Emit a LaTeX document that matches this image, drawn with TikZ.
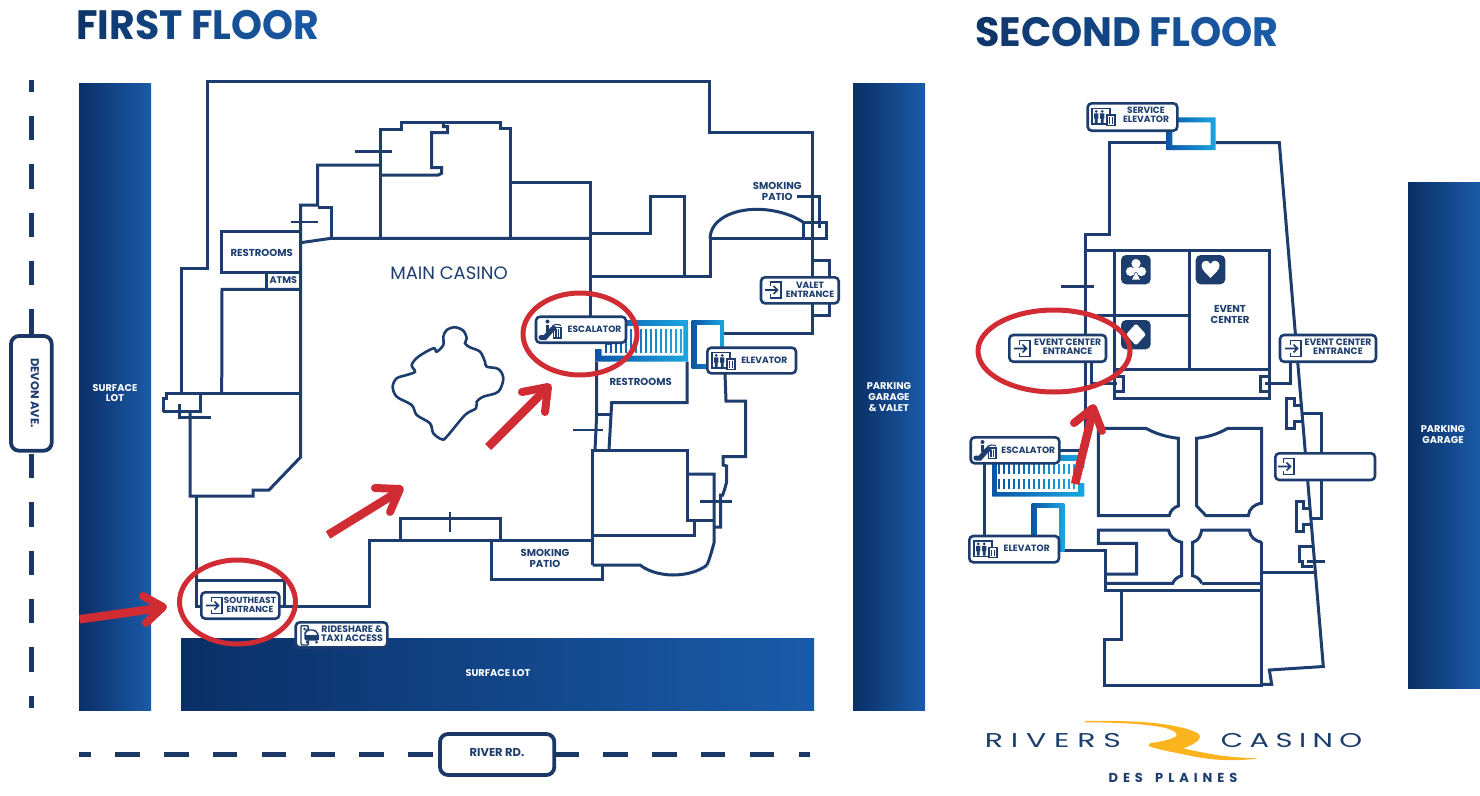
\documentclass[tikz,border=0pt]{standalone}
\usepackage{fontspec}
\usepackage{graphicx}
\setmainfont{Poppins}
\definecolor{navy}{HTML}{1C3D6E}
\definecolor{dashc}{HTML}{1A3766}
\definecolor{barL}{HTML}{0A2F66}
\definecolor{barR}{HTML}{1A5BA8}
\definecolor{gradL}{HTML}{0B55A6}
\definecolor{gradR}{HTML}{1AA6E2}
\definecolor{redm}{HTML}{D12B33}
\definecolor{gold}{HTML}{FBB41E}
\definecolor{hdL}{HTML}{0E3569}
\definecolor{hdR}{HTML}{1A5BA8}
\tikzset{
  wall/.style={draw=navy,line width=3pt,line join=miter},
  tick wall/.style={draw=navy,line width=2.6pt},
  barshade/.style={left color=barL,right color=barR},
  liftshade/.style={left color=gradL,right color=gradR},
  signbox/.style={draw=navy,fill=white,line width=2.6pt,rounded corners=4pt},
  roadbox/.style={draw=dashc,fill=white,line width=3.8pt,rounded corners=8pt},
  roadline/.style={draw=dashc,line width=5.5pt},
  lab/.style={font=\bfseries\fontsize{9.1}{9}\selectfont,text=navy,align=center,inner sep=0pt},
  roomlab/.style={font=\bfseries\fontsize{10.1}{11}\selectfont,text=navy,align=center,inner sep=0pt},
  roadlab/.style={font=\bfseries\fontsize{11.5}{12}\selectfont,text=navy,align=center,inner sep=0pt},
  barlab/.style={font=\bfseries\fontsize{9.8}{10.8}\selectfont,text=white,align=center,inner sep=0pt},
  redring/.style={draw=redm,line width=5pt},
  redshaft/.style={draw=redm,line width=8.5pt},
  redhead/.style={draw=redm,line width=8pt,line cap=round,line join=round},
  icon/.style={draw=navy,line width=1.4pt},
}
\newcommand\hdl[2]{\textcolor{hdL!#2!hdR}{#1}}
\newcommand\sign[4]{\draw[signbox] (#1,#2) rectangle (#3,#4);}
\newcommand\icoentry[2]{\begin{scope}[shift={(#1,#2)}]
  \draw[icon,line width=1.7pt] (-4.5,-4) -- (-4.5,-8) -- (6,-8) -- (6,8) -- (-4.5,8) -- (-4.5,4);
  \draw[icon,line width=1.7pt] (-10,0) -- (2.5,0) (-1.5,-4) -- (2.5,0) -- (-1.5,4);
\end{scope}}
\newcommand\icolift[2]{\begin{scope}[shift={(#1,#2)}]
  \draw[icon,line width=1.2pt] (-11,-8.5) rectangle (7,7);
  \fill[navy] (-6.8,-5.7) circle (1.5) (-0.8,-5.7) circle (1.5);
  \fill[navy] (-9,-3.6) rectangle (-4.6,1.5) (-8.1,1.5) rectangle (-5.5,6) (-3,-3.6) rectangle (1.4,1.5) (-2.1,1.5) rectangle (0.5,6);
  \draw[fill=white,icon,line width=1.2pt] (4,-2) rectangle (12,8.3);
  \draw[icon,line width=1.2pt] (6.3,0) -- (6.3,6.5) (9.8,0) -- (9.8,6.5);
\end{scope}}
\newcommand\icoesc[2]{\begin{scope}[shift={(#1,#2)}]
  \fill[navy] (-3.5,-8) circle (2);
  \draw[navy,line width=2.8pt] (-3.5,-5) -- (-3.5,2);
  \draw[navy,line width=5pt,line cap=round] (-10,8) -- (-6,8) -- (1,0) -- (3,-1);
  \draw[icon,line width=1.1pt] (1,-3) .. controls (3,-5.5) and (8,-5.5) .. (10,-4);
  \draw[icon,line width=1.4pt] (2.5,-2) rectangle (10,8.5);
  \draw[icon,line width=1.1pt] (5,-0.5) -- (5,7) (7.6,-0.5) -- (7.6,7);
\end{scope}}
\newcommand\stripes[4]{\foreach \i in {0,...,#4}{%
  \pgfmathsetmacro\p{100-100*\i/#4}\edef\cc{gradL!\p!gradR}%
  \draw[draw=\cc,line width=1.9pt] ({#1+5*\i},#2) -- ({#1+5*\i},#3);}}
\begin{document}
\begin{tikzpicture}[x=1pt,y=-1pt]
\useasboundingbox[fill=white] (0,0) rectangle (1480,795);
% headings
\node[anchor=west,inner sep=0pt,font=\bfseries\fontsize{41}{41}\selectfont] (hfirst) at (76,25) {\scalebox{0.96}[1]{\hdl{F}{100}\hdl{I}{90}\hdl{R}{80}\hdl{S}{70}\hdl{T}{60}\hspace{0.22em}\hdl{F}{50}\hdl{L}{40}\hdl{O}{30}\hdl{O}{20}\hdl{R}{10}}};
\node[anchor=west,inner sep=0pt,font=\bfseries\fontsize{41}{41}\selectfont] (hsecond) at (975,32) {\scalebox{0.968}[1]{\hdl{S}{100}\hdl{E}{90}\hdl{C}{80}\hdl{O}{70}\hdl{N}{60}\hdl{D}{50}\hspace{0.22em}\hdl{F}{40}\hdl{L}{30}\hdl{O}{20}\hdl{O}{10}\hdl{R}{0}}};
% lots
\shade[barshade] (79,83) rectangle (151,710);
\shade[barshade] (853,83) rectangle (925,710);
\shade[barshade] (181,638) rectangle (814,710);
\shade[barshade] (1408,182) rectangle (1480,688);
\node[barlab] (lot1) at (115,393) {SURFACE\\LOT};
\node[barlab] (lot2) at (498,673) {SURFACE LOT};
\node[barlab] (lot3) at (889,397) {PARKING\\GARAGE\\\& VALET};
\node[barlab] (lot4) at (1443,434.5) {PARKING\\GARAGE};
% roads
\draw[roadline,dash pattern=on 24.4pt off 23.9pt,dash phase=12.4pt] (31.5,80) -- (31.5,708);
\draw[roadline,dash pattern=on 24.4pt off 24.4pt,dash phase=12.4pt] (79,754.3) -- (810,754.3);
\draw[roadbox] (11,336) rectangle (51.7,450.7);
\node[roadlab,rotate=-90] (devon) at (35,393) {DEVON AVE.};
\draw[roadbox] (440,734) rectangle (554.3,775);
\node[roadlab] (river) at (497,752) {RIVER RD.};
% first floor walls
\draw[wall] (181.7,393.5) -- (181.7,268.5) -- (207,268.5) -- (207,81) -- (709,81) -- (709,132) -- (812,132) -- (812,333) -- (724,333);
\draw[wall] (163.3,411.7) -- (163.3,398.3) -- (166.7,398.3) -- (166.7,393.5) -- (300.7,393.5);
\draw[wall] (163.3,411.7) -- (200.7,411.7) -- (200.7,393.5);
\draw[wall] (179.3,404) -- (179.3,417.5) -- (211,417.5);
\draw[wall] (190,411.7) -- (190,496) -- (253,496) -- (253,490) -- (269,490) -- (300.7,457) -- (300.7,205) -- (317.7,205) -- (317.7,165) -- (380,165);
\draw[wall] (196,496) -- (196,606) -- (369,606) -- (369,540.5) -- (592.5,540.5);
\draw[wall] (196,580.7) -- (284,580.7) -- (284,606);
\draw[wall] (400.7,540.5) -- (400.7,518) -- (500.7,518) -- (500.7,540.5);
\draw[tick wall] (450,511.7) -- (450,531.7);
\draw[wall] (221.7,393.5) -- (222,289.3) -- (300.7,289.3);
\draw[wall] (266,289.3) -- (266,272.3);
\draw[wall] (300.7,272.3) -- (221.7,272.3) -- (221.7,231.7) -- (300.7,231.7);
\draw[wall] (300.7,242.7) -- (331,238.3) -- (590,238.3);
\draw[wall] (317.7,207.7) -- (331,207.7) -- (331,238.3);
\draw[tick wall] (290.7,222) -- (318.3,222);
\draw[wall] (380,238.3) -- (380,129.3) -- (401,129.3) -- (401,122.7) -- (500,122.7) -- (500,128.3) -- (510,128.3) -- (510,238.3);
\draw[wall] (380,175) -- (438.3,175) -- (441.7,173.3) -- (441.7,167.7) -- (431.7,167.7) -- (431.7,132.7) -- (447.7,132.7) -- (447.7,126.7) -- (443.3,126.7) -- (443.3,122.7);
\draw[tick wall] (355,151.3) -- (391.7,151.3);
\draw[wall] (510,182.7) -- (590,182.7) -- (590,317);
\draw[wall] (590,233.3) -- (650.7,233.3) -- (650.7,196.7) -- (684,196.7) -- (684,276.7);
\draw[wall] (590,276.7) -- (710,276.7) -- (710,238.3) -- (826,238.3) -- (826,222.3) -- (803.3,222.3) -- (803.3,238.3);
\draw[wall] (710,238.3) .. controls (711,218) and (735,209.3) .. (756.7,209.3) .. controls (775,209.3) and (793,215) .. (803.3,222.3);
\draw[wall] (796.7,196.7) -- (819,196.7) -- (819,228);
\draw[wall] (812,260) -- (829,260) -- (829,315) -- (812,315);
\draw[wall] (596.5,361.7) -- (596.7,414) -- (595,450);
\draw[wall] (596.7,414) -- (611.7,414);
\draw[wall] (609,450) -- (611.7,402.7) -- (687,402.7) -- (687,361.7);
\draw[tick wall] (573,430) -- (603,430);
\draw[wall] (592.7,565) -- (592.7,450) -- (687,450) -- (687,520.7) -- (714,520.7);
\draw[wall] (694,520.7) -- (694,535) -- (592.7,535);
\draw[wall] (687,474) -- (714,474) -- (714,543) .. controls (712,550) and (710,558) .. (707,565);
\draw[wall] (491.7,540.5) -- (491.7,579) -- (602,579) -- (602,565);
\draw[wall] (592.7,565) -- (640,565) .. controls (650,573) and (665,575) .. (673,575) .. controls (685,575) and (698,572) .. (707,565);
\draw[wall] (725,373) -- (726,401) -- (745.7,401) -- (745.7,456.7) -- (723,456.7) -- (723,465) -- (726.7,466) -- (726.7,481.7) -- (725,488) -- (722.7,495) -- (720.7,495) -- (720.7,527) -- (714,527);
\draw[tick wall] (700,501.7) -- (731.7,501.7);
\draw[wall,line width=2.6pt] plot[smooth cycle,tension=0.55] coordinates {(392.7,386.7) (396.7,378.3) (406.7,375) (415,371.7) (411.7,365) (418.3,356.7) (433.3,348.3) (436.7,351.7) (443.3,345) (443.3,336.7) (446.7,330) (455,327.3) (463.3,330.7) (466.7,338.3) (465,343.3) (470,347.3) (480,351.7) (485,361.7) (486.7,366.7) (498.3,369) (503.3,378.3) (498.3,391.7) (483.3,396.7) (476.7,401.7) (476,408.3) (465,415) (446.7,436.7) (441.7,439.3) (433.3,433.3) (430,423.3) (416.7,415) (411.7,405) (396.7,396.7)};
% first floor escalator and elevator
\shade[liftshade] (595,361.7) -- (595,349) -- (606,349) -- (606,320) -- (688,320) -- (688,361.7) -- cycle;
\fill[white] (601.7,355.5) -- (601.7,345) -- (612,345) -- (612,326) -- (683.3,326) -- (683.3,355.5) -- cycle;
\stripes{606}{329}{352.5}{15}
\shade[liftshade] (691.7,320) rectangle (724,368);
\fill[white] (696.7,325) rectangle (720,363.5);
% second floor walls
\draw[wall] (1166.7,142.7) -- (1109,142.7) -- (1109,234.3) -- (1085,234.3) -- (1085,450.7) -- (1060,450.7);
\draw[wall] (1215.7,142.7) -- (1279.3,142.7) -- (1323.3,666.5) -- (1269.3,670) -- (1271.7,684.3) -- (1261.7,684.3);
\draw[wall] (1085,250) -- (1269.3,250) -- (1269.3,398.3) -- (1114.3,398.3) -- (1114.3,250);
\draw[wall] (1189.3,250) -- (1189.3,369.3);
\draw[wall] (1114.3,369.3) -- (1269.3,369.3);
\draw[wall] (1096.7,315.7) -- (1189.3,315.7);
\draw[tick wall] (1061,286.7) -- (1094.3,286.7);
\draw[wall] (1091,361.7) -- (1091,383) -- (1116.7,383);
\draw[wall] (1115,376.7) -- (1123,376.7) -- (1123,391.7) -- (1115,391.7);
\draw[wall] (1268.7,376.7) -- (1260,376.7) -- (1260,391.7) -- (1268.7,391.7);
\draw[wall] (1265,383.3) -- (1290.7,383.3) -- (1290.7,361.7);
\draw[wall] (1301.7,405) -- (1294.3,405) -- (1294.3,398.3) -- (1286.7,398.3) -- (1286.7,428.3) -- (1294.3,428.3) -- (1294.3,421.7) -- (1301.7,421.7);
\draw[wall] (1301.7,413.3) -- (1321.7,413.3) -- (1321.7,518.3) -- (1310,518.3);
\draw[wall] (1310,508.3) -- (1303.3,508.3) -- (1303.3,501.7) -- (1296,501.7) -- (1296,531.7) -- (1303.3,531.7) -- (1303.3,524) -- (1310.7,524);
\draw[wall] (1313.3,546.7) -- (1299.3,546.7) -- (1299.3,561.7) -- (1302.7,561.7) -- (1302.7,566.7) -- (1313.3,566.7);
\draw[tick wall] (1306.7,561.7) -- (1325,561.7);
\draw[wall] (1261.7,572.7) -- (1314,572.7);
\draw[wall] (1098.3,428.3) -- (1146,428.3) .. controls (1156,434) and (1167,437) .. (1178.3,438.3) -- (1178.3,506) .. controls (1174,507) and (1170,511) .. (1169.3,515.7) -- (1098.3,515.7) -- cycle;
\draw[wall] (1196.7,438.3) .. controls (1208,437) and (1218,434) .. (1227.7,428.3) -- (1261.7,428.3) -- (1261.7,503.3) .. controls (1254,504) and (1249,509) .. (1248.3,515.7) -- (1206,515.7) -- (1196.7,506) -- cycle;
\draw[wall] (1105,574) -- (1136.7,574) -- (1136.7,543.3) -- (1098.3,543.3) -- (1098.3,530) -- (1168.3,530) .. controls (1170,537) and (1175,541) .. (1181.7,542.3) -- (1181.7,575.7) .. controls (1177,577) and (1174,580) .. (1172.7,583.3) -- (1105,583.3);
\draw[wall] (1201.7,583.3) .. controls (1200,579) and (1197,577) .. (1192.7,575.7) -- (1192.7,542.3) .. controls (1198,541) and (1201,536) .. (1201.7,530) -- (1249.3,530) .. controls (1250,537) and (1255,541) .. (1261.7,542.3);
\draw[wall] (1201.7,583.3) -- (1261.7,583.3);
\draw[wall] (1261.7,542.3) -- (1261.7,685.7) -- (1104.3,685.7) -- (1104.3,639) -- (1121,639) -- (1121,590);
\draw[wall] (1064.3,550.7) -- (1105,550.7) -- (1105,590) -- (1261.7,590);
\draw[wall] (984,463.3) -- (984,536);
% second floor lifts
\shade[liftshade] (1177,117.3) -- (1215.7,117.3) -- (1215.7,150) -- (1166.7,150) -- (1166.7,125) -- (1177,125) -- cycle;
\fill[white] (1177,122.3) -- (1210.7,122.3) -- (1210.7,145) -- (1172.3,145) -- (1172.3,130) -- (1177,130) -- cycle;
\shade[liftshade] (992.3,455) -- (1084.3,455) -- (1084.3,468) -- (1078,468) -- (1078,483) -- (1084.3,483) -- (1084.3,496.7) -- (992.3,496.7) -- cycle;
\fill[white] (997,461) rectangle (1078,491.5);
\fill[white] (1078,468) rectangle (1085,483);
\stripes{999}{464}{474}{15}
\stripes{999}{479}{489}{15}
\shade[liftshade] (1031.7,503.3) rectangle (1064.3,551.7);
\fill[white] (1037.3,508.3) rectangle (1059.3,551.7);
% suit tiles
\fill[navy,rounded corners=5pt] (1121,255) rectangle (1150.7,284.3);
\fill[navy,rounded corners=5pt] (1195.7,255) rectangle (1225.3,284.3);
\fill[navy,rounded corners=5pt] (1121,320) rectangle (1150.7,349.3);
\fill[white] (1136,263.5) circle (4.6) (1130.5,271.5) circle (4.6) (1141.5,271.5) circle (4.6) (1136,269) circle (3);
\fill[white] (1136,272) -- (1132,279.5) -- (1140,279.5) -- cycle;
\fill[white] (1210.5,278) .. controls (1206,273) and (1201.5,270) .. (1201.5,265.5) .. controls (1201.5,260) and (1208.5,259) .. (1210.5,264) .. controls (1212.5,259) and (1219.5,260) .. (1219.5,265.5) .. controls (1219.5,270) and (1215,273) .. (1210.5,278) -- cycle;
\fill[white,rounded corners=1.5pt] (1136,323.5) -- (1146,334.5) -- (1136,345.5) -- (1126,334.5) -- cycle;
% signs
\sign{536}{316.7}{626}{342.7}
\sign{707.3}{347.7}{796}{373.3}
\sign{761}{277.3}{838.7}{303.3}
\sign{201.3}{592.3}{279.3}{618.7}
\sign{295.7}{622.3}{387.3}{647.3}
\sign{1087.7}{103.3}{1177.3}{130.7}
\sign{1009.3}{335}{1106}{361.7}
\sign{1280}{335}{1376}{361.7}
\sign{970.7}{437.3}{1059.3}{463.3}
\sign{969.3}{536}{1059}{562.3}
\sign{1275.3}{453.3}{1375}{480}
\icoesc{551}{329.5}
\icolift{723}{361}
\icoentry{775}{290}
\icoentry{216}{605.5}
\icolift{1103}{117}
\icoentry{1024}{348.5}
\icoentry{1295}{348.5}
\icoesc{986}{450}
\icolift{985}{549.5}
\icoentry{1288}{466.5}
% rideshare icon
\draw[icon,rounded corners=1pt,fill=white] (301,625.7) rectangle (308.3,645);
\fill[navy] (304.6,629) circle (1.4);
\draw[icon,fill=white,rounded corners=2pt] (305,633) -- (307,630) -- (315,630) -- (317,633) -- (318.5,635) -- (318.5,640) -- (305,640) -- cycle;
\fill[navy] (305,635) rectangle (318.5,640);
\fill[navy] (307,642) circle (1.5) (316.5,642) circle (1.5);
% labels
\node[lab] (tesc1) at (594.5,329) {ESCALATOR};
\node[lab] (telv1) at (764.3,360.3) {ELEVATOR};
\node[lab] (tval) at (810,290) {VALET\\ENTRANCE};
\node[lab,font=\bfseries\fontsize{8.8}{9}\selectfont] (tse) at (250,605.3) {SOUTHEAST\\ENTRANCE};
\node[lab,font=\bfseries\fontsize{9.4}{9}\selectfont] (tride) at (352,634) {RIDESHARE \&\\TAXI ACCESS};
\node[lab] (tserv) at (1146,115) {SERVICE\\ELEVATOR};
\node[lab,font=\bfseries\fontsize{9.3}{9}\selectfont] (tevl) at (1067.7,346.8) {EVENT CENTER\\ENTRANCE};
\node[lab,font=\bfseries\fontsize{9.3}{9}\selectfont] (tevr) at (1338,346.8) {EVENT CENTER\\ENTRANCE};
\node[lab] (tesc2) at (1028.3,450) {ESCALATOR};
\node[lab] (telv2) at (1026.7,548.7) {ELEVATOR};
\node[roomlab] (trest1) at (261.7,252.7) {RESTROOMS};
\node[lab,font=\bfseries\fontsize{9.6}{9}\selectfont] (tatms) at (283.3,280) {ATMS};
\node[roomlab] (trest2) at (640.7,381.7) {RESTROOMS};
\node[lab,font=\fontsize{18}{18}\selectfont] (tmain) at (449,273) {MAIN CASINO};
\node[roomlab] (tsmk1) at (777.3,191.5) {SMOKING\\PATIO};
\node[roomlab] (tsmk2) at (545,558.8) {SMOKING\\PATIO};
\node[roomlab] (tevc) at (1230,314) {EVENT\\CENTER};
% red arrows
\draw[redshaft] (79.5,619.3) -- (160,608);
\draw[redhead] (143,596) -- (163,607) -- (146,623);
\draw[redshaft] (328,535) -- (396,493);
\draw[redhead] (375,488) -- (400,489) -- (390,512);
\draw[redshaft] (488,447) -- (545,390);
\draw[redhead] (522,392) -- (548,387) -- (545,412);
\draw[redshaft] (1075,484) -- (1092,415);
\draw[redhead] (1074,423) -- (1093,408) -- (1102,431);
% red rings
\draw[redring] (580,334) ellipse [x radius=57,y radius=41];
\draw[redring] (237.5,602) ellipse [x radius=58,y radius=42];
\draw[redring] (1054,351) ellipse [x radius=76,y radius=41];
% logo
\fill[gold] (1085,721) .. controls (1110,720.5) and (1135,721) .. (1156.7,723.3) .. controls (1170,725) and (1182,727) .. (1190,730) .. controls (1196,732) and (1200,734) .. (1200,736.7) .. controls (1200,741) and (1192,745) .. (1183.3,748.3) .. controls (1195,751) and (1205,753) .. (1216.7,755) .. controls (1230,757) and (1245,758) .. (1258.3,758.3) .. controls (1245,760) and (1235,760.5) .. (1223.3,760) .. controls (1210,759.5) and (1198,757.5) .. (1186.7,755) .. controls (1172,752) and (1158,749.5) .. (1148.3,746) -- (1150,743.3) .. controls (1157,742) and (1162,741.5) .. (1166.7,740) .. controls (1172,738.5) and (1176.7,737) .. (1176.7,735) .. controls (1176.7,732) and (1172,730) .. (1166.7,728.3) .. controls (1157,726) and (1147,725) .. (1136.7,724) .. controls (1120,722.8) and (1100,722.3) .. (1085,722.3) -- cycle;
\node[lab,font=\fontsize{20}{20}\selectfont\addfontfeature{LetterSpace=26}] (lrivers) at (1053,740) {\scalebox{1.5}[1]{RIVERS}};
\node[lab,font=\fontsize{20}{20}\selectfont\addfontfeature{LetterSpace=22}] (lcasino) at (1291.5,740) {\scalebox{1.45}[1]{CASINO}};
\node[lab,font=\bfseries\fontsize{13}{13}\selectfont\addfontfeature{LetterSpace=38}] (lplaines) at (1173,778) {DES\hspace{0.35em} PLAINES};
\end{tikzpicture}
\end{document}
